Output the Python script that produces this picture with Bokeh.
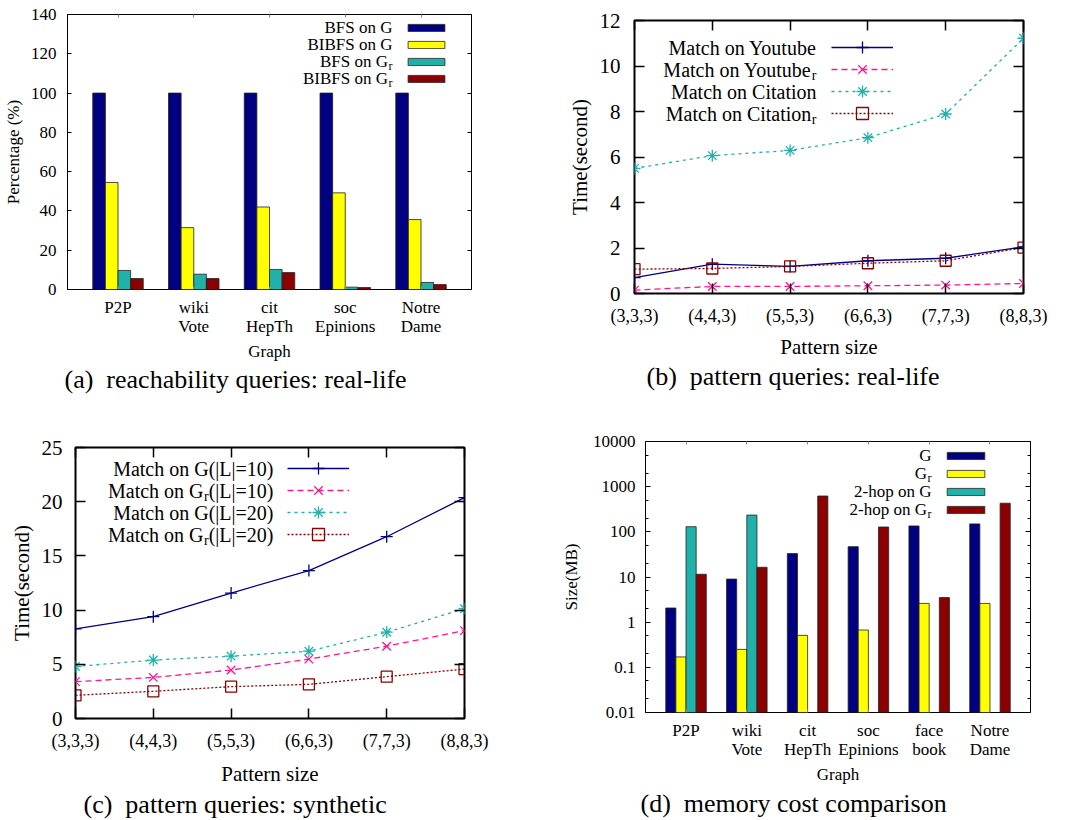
import math
from bokeh.plotting import figure
from bokeh.models import (Range1d, LinearAxis, LogAxis, FixedTicker, Label, Legend,
                          LegendItem, CustomJSTickFormatter, Title, Spacer)
from bokeh.core.properties import value
from bokeh.layouts import column, row
from bokeh.embed import file_html
from bokeh.resources import INLINE

FONT = "Liberation Serif"
NAVY = "#000080"
YELLOW = "#ffff00"
TEAL = "#20b2aa"
DRED = "#8b0000"
PINK = "#ff1493"
NAN = float("nan")

# ---------------- data ----------------
# (a) reachability queries
graphs_a = ["P2P", "wiki\nVote", "cit\nHepTh", "soc\nEpinions", "Notre\nDame"]
bfs_g = [100, 100, 100, 100, 100]
bibfs_g = [54.5, 31.5, 42.0, 49.2, 35.6]
bfs_gr = [9.7, 7.8, 10.2, 1.2, 3.6]
bibfs_gr = [5.6, 5.6, 8.6, 1.0, 2.5]
legend_a = ["BFS on G", "BIBFS on G", "BFS on G_r", "BIBFS on G_r"]
y_ticks_a = [0, 20, 40, 60, 80, 100, 120, 140]

# (b) pattern queries: real-life
pattern_sizes = ["(3,3,3)", "(4,4,3)", "(5,5,3)", "(6,6,3)", "(7,7,3)", "(8,8,3)"]
youtube = [0.70, 1.29, 1.19, 1.44, 1.55, 2.05]
youtube_r = [0.15, 0.31, 0.31, 0.34, 0.37, 0.44]
citation = [5.50, 6.06, 6.29, 6.85, 7.89, 11.22]
citation_r = [1.07, 1.10, 1.19, 1.33, 1.44, 2.02]
legend_b = ["Match on Youtube", "Match on Youtube_r", "Match on Citation", "Match on Citation_r"]
y_ticks_b = [0, 2, 4, 6, 8, 10, 12]

# (c) pattern queries: synthetic
g_l10 = [8.26, 9.39, 11.57, 13.65, 16.77, 20.38]
gr_l10 = [3.40, 3.79, 4.47, 5.48, 6.67, 8.11]
g_l20 = [4.80, 5.39, 5.75, 6.21, 7.96, 10.13]
gr_l20 = [2.14, 2.51, 2.94, 3.15, 3.86, 4.56]
legend_c = ["Match on G(|L|=10)", "Match on G_r(|L|=10)", "Match on G(|L|=20)", "Match on G_r(|L|=20)"]
y_ticks_c = [0, 5, 10, 15, 20, 25]

# (d) memory cost
graphs_d = ["P2P", "wiki\nVote", "cit\nHepTh", "soc\nEpinions", "face\nbook", "Notre\nDame"]
size_g = [2.06, 9.0, 33.0, 47.0, 135.0, 150.0]
size_gr = [0.17, 0.25, 0.51, 0.67, 2.6, 2.6]
hop_g = [130.0, 235.0, NAN, NAN, NAN, NAN]
hop_gr = [11.5, 16.4, 621.0, 128.0, 3.5, 430.0]
legend_d = ["G", "G_r", "2-hop on G", "2-hop on G_r"]
y_ticks_d = [0.01, 0.1, 1, 10, 100, 1000, 10000]
y_labels_d = ["0.01", "0.1", "1", "10", "100", "1000", "10000"]

captions = ["(a)\u00a0\u00a0reachability queries: real-life",
            "(b)\u00a0\u00a0pattern queries: real-life",
            "(c)\u00a0\u00a0pattern queries: synthetic",
            "(d)\u00a0\u00a0memory cost comparison"]

# ---------------- helpers ----------------
CW = {"(": .333, ")": .333, "|": .2, "L": .611, "=": .564, "0": .5, "1": .5, "2": .5}


def text_width(s, size):
    return sum(CW.get(ch, 0.5) for ch in s) * size


def base_fig(w, h, borders, xr, yr, log=False, outline=1):
    bl, br, bt, bb = borders
    p = figure(title=None, width=w, height=h,
               min_border_left=bl, min_border_right=br,
               min_border_top=bt, min_border_bottom=bb,
               x_range=xr, y_range=yr,
               y_axis_type="log" if log else "linear",
               output_backend="svg", toolbar_location=None)
    p.grid.visible = False
    p.outline_line_color = "black"
    p.outline_line_width = outline
    p.background_fill_color = "white"
    p.border_fill_color = "white"
    return p


def style_axis(ax, ticker, tick_len, tick_w, tick_color="black", font_size=17, standoff=5,
               label=None, label_size=17, label_standoff=5, overrides=None, minor_len=0):
    ax.ticker = ticker
    ax.axis_line_color = None
    ax.major_tick_in = tick_len
    ax.major_tick_out = 0
    ax.minor_tick_in = minor_len
    ax.minor_tick_out = 0
    ax.major_tick_line_color = tick_color
    ax.minor_tick_line_color = tick_color
    ax.major_tick_line_width = tick_w
    ax.minor_tick_line_width = tick_w
    ax.major_label_text_font = FONT
    ax.major_label_text_font_size = f"{font_size}px"
    ax.major_label_text_color = "black"
    ax.major_label_standoff = standoff
    ax.major_label_text_line_height = 1.05
    if overrides:
        ax.major_label_overrides = overrides
    if label:
        ax.axis_label = label
        ax.axis_label_text_font = FONT
        ax.axis_label_text_font_size = f"{label_size}px"
        ax.axis_label_text_font_style = "normal"
        ax.axis_label_text_color = "black"
        ax.axis_label_standoff = label_standoff


def mirror_axis(p, side, ticker, tick_len, tick_w, tick_color="black", log=False, minor_len=0):
    cls = LogAxis if log else LinearAxis
    ax = cls(formatter=CustomJSTickFormatter(code="return ''"))
    style_axis(ax, ticker, tick_len, tick_w, tick_color, font_size=0, standoff=0,
               minor_len=minor_len)
    p.add_layout(ax, side)


def glyph_legend(p, renderer_groups, x, y, gw, gh, spacing):
    items = [LegendItem(label=value(" "), renderers=rs) for rs in renderer_groups]
    lg = Legend(items=items, location=(x, y), glyph_width=gw, glyph_height=gh,
                label_height=gh, label_width=0, label_standoff=0, padding=0,
                spacing=spacing, margin=0, border_line_alpha=0,
                background_fill_alpha=0, label_text_font_size="6px")
    p.add_layout(lg)


def row_legends(p, fh, renderer_groups, x, top0, pitch, gw, gh):
    for k, rs in enumerate(renderer_groups):
        yc = top0 + pitch * k
        glyph_legend(p, [rs], x, fh - yc - gh / 2, gw, gh, 0)


def add_text(p, x, y, text, size, align="right", baseline="middle"):
    p.add_layout(Label(x=x, y=y, x_units="screen", y_units="screen", text=text,
                       text_align=align, text_baseline=baseline, text_font=FONT,
                       text_font_size=f"{size}px", text_color="black"))


def legend_texts(p, fh, right, top0, pitch, labels, size, sub_size, sub_drop):
    for k, lab in enumerate(labels):
        y = fh - (top0 + pitch * k)
        if "_r" in lab:
            head, tail = lab.split("_r", 1)
            cursor = right
            if tail:
                add_text(p, cursor, y, tail, size)
                cursor -= text_width(tail, size)
            add_text(p, cursor, y - sub_drop, "r", sub_size)
            cursor -= 0.333 * sub_size + 0.5
            add_text(p, cursor, y, head, size)
        else:
            add_text(p, right, y, lab, size)


def caption(p, offset, text, valign="bottom"):
    t = Title(text=text, align="left", offset=offset, text_font=FONT,
              text_font_size="26px", text_font_style="normal", text_color="black",
              standoff=0, vertical_align=valign)
    p.add_layout(t, "below")


# ---------------- (a) ----------------
n_a = len(graphs_a)
xa = list(range(n_a))
bw = 1 / 6
pa = base_fig(533, 410, (66, 62, 14, 121), Range1d(-4 / 6, n_a - 1 + 4 / 6), Range1d(0, 140))
cols4 = [NAVY, YELLOW, TEAL, DRED]
rs_a = []
for k, (vals, c) in enumerate(zip([bfs_g, bibfs_g, bfs_gr, bibfs_gr], cols4)):
    rs_a.append(pa.vbar(x=[i + (k - 1.5) * bw for i in xa], top=vals, width=bw, bottom=0,
                        fill_color=c, line_color="#222222", line_width=0.8))
xt_a = FixedTicker(ticks=xa)
yt_a = FixedTicker(ticks=y_ticks_a)
style_axis(pa.xaxis[0], xt_a, 3, 1, "#888888", 17, 8, "Graph", 17, 3,
           overrides={i: g for i, g in enumerate(graphs_a)})
style_axis(pa.yaxis[0], yt_a, 4, 1, "black", 17, 11, "Percentage (%)", 17, 5)
mirror_axis(pa, "above", xt_a, 3, 1, "#888888")
mirror_axis(pa, "right", yt_a, 4, 1)
glyph_legend(pa, [[r] for r in rs_a], 336, 206, 46, 9, 8)
legend_texts(pa, 275, 325, 13.3, 17, legend_a, 17, 12, 4.5)
caption(pa, -3, captions[0], "top")

# ---------------- (b) ----------------
xb = list(range(len(pattern_sizes)))
pb = base_fig(530, 408, (100, 41, 19, 116), Range1d(0, len(xb) - 1), Range1d(0, 12), outline=2)
l1 = pb.line(xb, youtube, line_color=NAVY, line_width=1.3)
m1 = pb.scatter(xb, youtube, marker="cross", size=12, line_color=NAVY, line_width=1.3)
l2 = pb.line(xb, youtube_r, line_color=PINK, line_width=1.3, line_dash="6 4")
m2 = pb.scatter(xb, youtube_r, marker="x", size=12, line_color=PINK, line_width=1.3)
l3 = pb.line(xb, citation, line_color=TEAL, line_width=1.3, line_dash="3 4")
m3 = pb.scatter(xb, citation, marker="asterisk", size=12, line_color=TEAL, line_width=1.3)
l4 = pb.line(xb, citation_r, line_color=DRED, line_width=1.3, line_dash="2 2")
m4 = pb.scatter(xb, citation_r, marker="square", size=11, line_color=DRED, fill_color=None,
                line_width=1.3)
xt_b = FixedTicker(ticks=xb)
yt_b = FixedTicker(ticks=y_ticks_b)
style_axis(pb.xaxis[0], xt_b, 10, 1.5, "black", 18, 12, "Pattern size", 21, 6,
           overrides={i: s for i, s in enumerate(pattern_sizes)})
style_axis(pb.yaxis[0], yt_b, 10, 1.5, "black", 21, 14, "Time(second)", 21, 5)
mirror_axis(pb, "above", xt_b, 10, 1.5)
mirror_axis(pb, "right", yt_b, 10, 1.5)
row_legends(pb, 273, [[l1, m1], [l2, m2], [l3, m3], [l4, m4]], 197, 27.3, 22, 62, 30)
legend_texts(pb, 273, 182, 27.3, 22, legend_b, 20, 14, 6)
caption(pb, 12, captions[1], "top")

# ---------------- (c) ----------------
pc = base_fig(531, 408, (74, 68, 36, 100), Range1d(0, len(xb) - 1), Range1d(0, 25), outline=2)
c1 = pc.line(xb, g_l10, line_color=NAVY, line_width=1.3)
cm1 = pc.scatter(xb, g_l10, marker="cross", size=12, line_color=NAVY, line_width=1.3)
c2 = pc.line(xb, gr_l10, line_color=PINK, line_width=1.3, line_dash="6 4")
cm2 = pc.scatter(xb, gr_l10, marker="x", size=12, line_color=PINK, line_width=1.3)
c3 = pc.line(xb, g_l20, line_color=TEAL, line_width=1.3, line_dash="3 4")
cm3 = pc.scatter(xb, g_l20, marker="asterisk", size=12, line_color=TEAL, line_width=1.3)
c4 = pc.line(xb, gr_l20, line_color=DRED, line_width=1.3, line_dash="2 2")
cm4 = pc.scatter(xb, gr_l20, marker="square", size=11, line_color=DRED, fill_color=None,
                 line_width=1.3)
xt_c = FixedTicker(ticks=xb)
yt_c = FixedTicker(ticks=y_ticks_c)
style_axis(pc.xaxis[0], xt_c, 10, 1.5, "black", 18, 12, "Pattern size", 21, 8,
           overrides={i: s for i, s in enumerate(pattern_sizes)})
style_axis(pc.yaxis[0], yt_c, 10, 1.5, "black", 21, 13, "Time(second)", 21, 5)
mirror_axis(pc, "above", xt_c, 10, 1.5)
mirror_axis(pc, "right", yt_c, 10, 1.5)
row_legends(pc, 272, [[c1, cm1], [c2, cm2], [c3, cm3], [c4, cm4]], 212, 22, 22, 62, 30)
legend_texts(pc, 272, 198, 22, 22, legend_c, 20, 14, 6)
caption(pc, 8, captions[2], "middle")

# ---------------- (d) ----------------
n_d = len(graphs_d)
xd = list(range(n_d))
pd_ = base_fig(530, 408, (112, 33, 31, 102), Range1d(-4 / 6, n_d - 1 + 4 / 6),
               Range1d(0.01, 10000), log=True)
rs_d = []
for k, (vals, c) in enumerate(zip([size_g, size_gr, hop_g, hop_gr], cols4)):
    rs_d.append(pd_.vbar(x=[i + (k - 1.5) * bw for i in xd], top=vals, width=bw, bottom=0.01,
                         fill_color=c, line_color="#222222", line_width=0.8))
xt_d = FixedTicker(ticks=xd)
minor_d = [m * t for t in y_ticks_d[:-1] for m in (2, 5)]
yt_d = FixedTicker(ticks=y_ticks_d, minor_ticks=minor_d)
style_axis(pd_.xaxis[0], xt_d, 3, 1, "#888888", 17, 8, "Graph", 17, 3,
           overrides={i: g for i, g in enumerate(graphs_d)})
style_axis(pd_.yaxis[0], yt_d, 5, 1, "black", 17, 10, "Size(MB)", 17, 9,
           overrides={t: s for t, s in zip(y_ticks_d, y_labels_d)}, minor_len=3)
mirror_axis(pd_, "above", xt_d, 3, 1, "#888888")
mirror_axis(pd_, "right", yt_d, 5, 1, log=True, minor_len=3)
glyph_legend(pd_, [[r] for r in rs_d], 297, 198, 47, 9, 9)
legend_texts(pd_, 275, 286, 18, 18, legend_d, 17, 12, 4.5)
caption(pd_, -5, captions[3], "middle")

top_row = row(pa, Spacer(width=1, height=1), column(Spacer(width=1, height=1), pb))
bottom_row = row(Spacer(width=1, height=1), column(Spacer(width=1, height=1), pc),
                 Spacer(width=1, height=1), pd_)
layout = column(top_row, bottom_row)
open("out.html", "w").write(file_html(layout, INLINE))
